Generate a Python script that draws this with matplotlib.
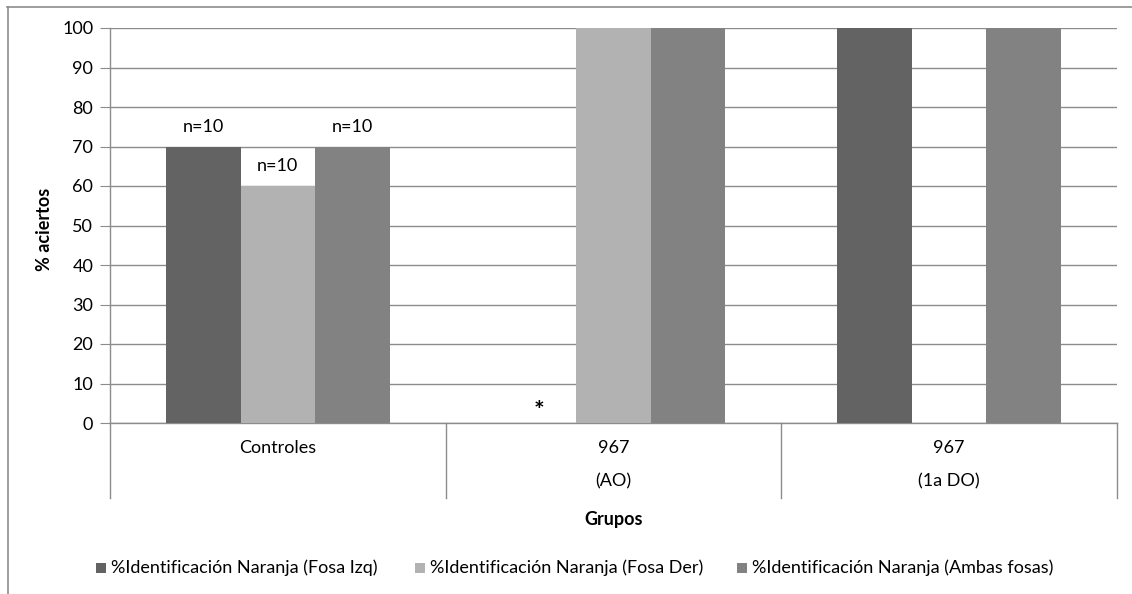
import matplotlib
matplotlib.use("Agg")
import matplotlib.pyplot as plt
from matplotlib.patches import Rectangle
from matplotlib.lines import Line2D

plt.rcParams['font.family'] = ['Lato', 'DejaVu Sans']

# Data
groups = ["Controles", "967\n(AO)", "967\n(1a DO)"]
group_line1 = ["Controles", "967", "967"]
group_line2 = ["", "(AO)", "(1a DO)"]
series_names = ["%Identificación Naranja (Fosa Izq)",
                "%Identificación Naranja (Fosa Der)",
                "%Identificación Naranja (Ambas fosas)"]
fosa_izq = [70, 0, 100]
fosa_der = [60, 100, 0]
ambas = [70, 100, 100]
n_labels = [["n=10", "", ""], ["n=10", "", ""], ["n=10", "", ""]]
colors = ["#636363", "#b2b2b2", "#828282"]
y_ticks = [0, 10, 20, 30, 40, 50, 60, 70, 80, 90, 100]

FS = 13
W, H = 1132, 594
fig = plt.figure(figsize=(W / 100, H / 100), dpi=100)
fig.patch.set_facecolor("white")

# outer chart border (top and left)
border_col = "#8c8c8c"
fig.add_artist(Line2D([7 / W, 1.0], [1 - 6.5 / H, 1 - 6.5 / H], transform=fig.transFigure,
                      color=border_col, lw=1.2))
fig.add_artist(Line2D([7.5 / W, 7.5 / W], [0, 1 - 6.5 / H], transform=fig.transFigure,
                      color=border_col, lw=1.2))

left, right, top, bottom = 110, 1117, 28, 423
ax = fig.add_axes([left / W, 1 - bottom / H, (right - left) / W, (bottom - top) / H])
ax.set_xlim(0, 3)
ax.set_ylim(0, 100)

bw = 1 / 4.5
centers = [0.5, 1.5, 2.5]
all_series = [fosa_izq, fosa_der, ambas]
for si, vals in enumerate(all_series):
    xs = [c + (si - 1) * bw for c in centers]
    ax.bar(xs, vals, width=bw, color=colors[si], zorder=3, linewidth=0)
    for gi, (x, v) in enumerate(zip(xs, vals)):
        lab = n_labels[si][gi]
        if lab:
            ax.annotate(lab, (x, v), xytext=(0, 20), textcoords="offset pixels",
                        ha="center", va="center", fontsize=FS, color="black")

# asterisk marking a zero-valued bar
ax.annotate("*", (centers[1] - bw, 0), xytext=(0, 12), textcoords="offset pixels",
            ha="center", va="center", fontsize=18, fontweight="bold")

grid_col = "#8c8c8c"
ax.set_yticks(y_ticks)
ax.set_yticklabels([str(t) for t in y_ticks], fontsize=FS)
ax.yaxis.grid(True, color=grid_col, lw=1.0, zorder=0)
ax.set_axisbelow(True)
ax.tick_params(axis="y", length=7, color=grid_col, pad=5)
ax.set_xticks([])
for s in ["top", "right"]:
    ax.spines[s].set_visible(False)
for s in ["left", "bottom"]:
    ax.spines[s].set_color(grid_col)
    ax.spines[s].set_linewidth(1.0)

# category separators extending below the axis
ext = -75 / (bottom - top) * 100
for xv in [0, 1, 2, 3]:
    ax.plot([xv, xv], [0, ext], color=grid_col, lw=1.0, clip_on=False, zorder=1)

for c, l1, l2 in zip(centers, group_line1, group_line2):
    ax.annotate(l1, (c, 0), xytext=(0, -25), textcoords="offset pixels",
                ha="center", va="center", fontsize=FS, annotation_clip=False)
    if l2:
        ax.annotate(l2, (c, 0), xytext=(0, -58), textcoords="offset pixels",
                    ha="center", va="center", fontsize=FS, annotation_clip=False)

fig.text(614 / W, 1 - 519 / H, "Grupos", ha="center", va="center",
         fontsize=FS, fontweight="bold")
fig.text(44 / W, 1 - 229 / H, "% aciertos", ha="center", va="center",
         rotation=90, fontsize=FS, fontweight="bold")

# legend
leg_x = [96, 415, 737]
leg_y = 568
for x0, col, name in zip(leg_x, colors, series_names):
    fig.add_artist(Rectangle((x0 / W, 1 - (leg_y + 5) / H), 10 / W, 10 / H,
                             transform=fig.transFigure, color=col, lw=0))
    fig.text((x0 + 15) / W, 1 - leg_y / H, name, ha="left", va="center", fontsize=FS)

fig.savefig("out.png", dpi=100, facecolor="white")
